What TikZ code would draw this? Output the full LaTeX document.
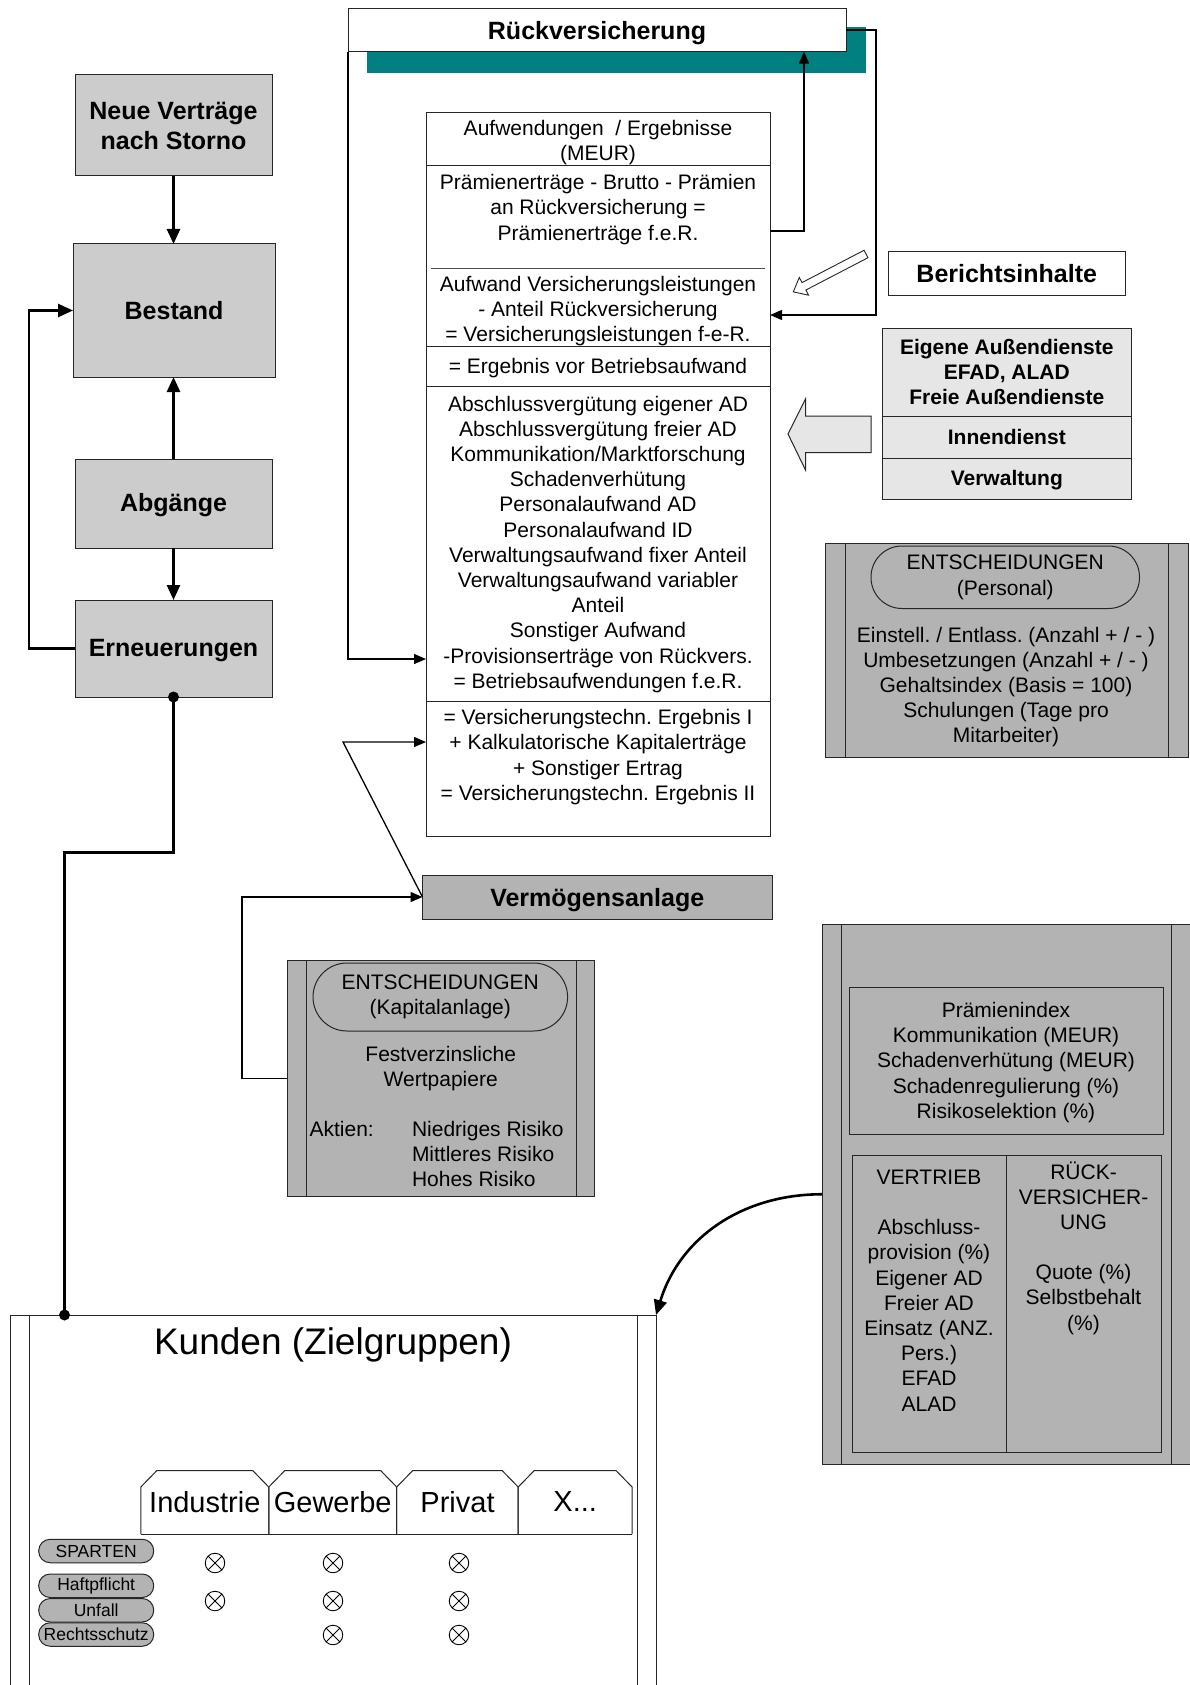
\documentclass[tikz,border=0pt]{standalone}
\usepackage{fontspec}
\setmainfont{Liberation Sans}
\usetikzlibrary{arrows.meta,calc}

\definecolor{flowfill}{HTML}{CCCCCC}
\definecolor{darkfill}{HTML}{B3B3B3}
\definecolor{lightfill}{HTML}{E6E6E6}
\definecolor{shadowteal}{HTML}{008080}
\definecolor{edge}{HTML}{262626}

\newcommand{\txtbody}{\fontsize{21}{25.2}\selectfont}
\newcommand{\txthead}{\fontsize{25}{30}\selectfont\bfseries}
\newcommand{\txtbold}{\fontsize{21}{25.3}\selectfont\bfseries}
\newcommand{\txtbig}{\fontsize{37}{44}\selectfont}
\newcommand{\txttab}{\fontsize{29}{34}\selectfont}
\newcommand{\txtpill}{\fontsize{17.5}{20}\selectfont}
% shift a one-line label vertically without changing its box
\newcommand{\lowertext}[2]{\raisebox{#1}[\height][\depth]{#2}}

\begin{document}
\frenchspacing
\begin{tikzpicture}[x=1pt, y=-1pt,
  every node/.style={inner sep=0pt, outer sep=0pt, align=center},
  plainbox/.style={draw=edge, line width=1pt, rectangle},
  flowbox/.style={plainbox, fill=flowfill, font=\txthead},
  greybox/.style={plainbox, fill=darkfill},
  lightbox/.style={plainbox, fill=lightfill, font=\txtbold, minimum width=248.4pt},
  roundpill/.style={draw=edge, line width=1pt, fill=darkfill},
  spartepill/.style={draw=edge, line width=1pt, fill=darkfill, rounded corners=11.5pt,
    minimum width=115pt, minimum height=23.5pt, font=\txtpill},
  thinlink/.style={draw=black, line width=1.3pt, -{Triangle[length=12pt,width=10pt]}},
  thicklink/.style={draw=black, line width=2.6pt, -{Triangle[length=15pt,width=13pt]}},
  thickline/.style={draw=black, line width=2.6pt},
  tabline/.style={draw=edge, line width=1pt},
  crossmark/.style={circle, draw=black, line width=0.9pt, minimum size=19.5pt,
    path picture={\draw[line width=0.9pt]
      (path picture bounding box.north west) -- (path picture bounding box.south east)
      (path picture bounding box.north east) -- (path picture bounding box.south west);}}
]
\useasboundingbox (0,0) rectangle (1190,1685);
\fill[white] (0,0) rectangle (1190,1685);

% ---------- contract flow (left column) ----------
\node[flowbox, minimum width=197pt, minimum height=101pt] (neue) at (173.5,125.5) {Neue Verträge\\nach Storno};
\node[flowbox, minimum width=202pt, minimum height=133pt] (bestand) at (174,310.5) {Bestand};
\node[flowbox, minimum width=197pt, minimum height=89pt] (abg) at (173.5,503.5) {\lowertext{-2pt}{Abgänge}};
\node[flowbox, minimum width=197pt, minimum height=97pt] (ern) at (173.5,648.5) {\lowertext{-2pt}{Erneuerungen}};

\draw[thicklink] (neue.south) -- (neue.south |- bestand.north);
\draw[thicklink] (abg.north) -- (abg.north |- bestand.south);
\draw[thicklink] (abg.south) -- (abg.south |- ern.north);
\draw[thicklink] (ern.west) -- ++(-46,0) |- (bestand.west);

% ---------- reinsurance header with teal shadow ----------
\fill[shadowteal] (366.6,27) rectangle (866,73);
\node[plainbox, fill=white, minimum width=498pt, minimum height=43pt, font=\txthead] (rueck) at (597,30.1) {\lowertext{-3pt}{Rückversicherung}};

% ---------- profit and loss statement ----------
\node[plainbox, fill=white, minimum width=344pt, minimum height=53pt] (s1) at (598,139.5) {};
\node[plainbox, fill=white, minimum width=344pt, minimum height=180pt] (s2) at (598,256) {};
\node[plainbox, fill=white, minimum width=344pt, minimum height=40pt] (s3) at (598,366) {};
\node[plainbox, fill=white, minimum width=344pt, minimum height=315pt] (s4) at (598,543.5) {};
\node[plainbox, fill=white, minimum width=344pt, minimum height=135pt] (s5) at (598,768.5) {};

\node[font=\txtbody] (t1) at (598,142.5) {Aufwendungen~ / Ergebnisse\\(MEUR)};
\node[font=\txtbody] (t2a) at (598,209.4) {Prämienerträge - Brutto - Prämien\\an Rückversicherung =\\Prämienerträge f.e.R.};
\draw[line width=0.8pt, black!70] (431,268) -- (765,268);
\node[font=\txtbody] (t2b) at (598,311) {Aufwand Versicherungsleistungen\\- Anteil Rückversicherung\\= Versicherungsleistungen f-e-R.};
\node[font=\txtbody] (t3) at (598,368.5) {= Ergebnis vor Betriebsaufwand};
\node[font=\txtbody] (t4) at (598,544.3) {Abschlussvergütung eigener AD\\Abschlussvergütung freier AD\\Kommunikation/Marktforschung\\Schadenverhütung\\Personalaufwand AD\\Personalaufwand ID\\Verwaltungsaufwand fixer Anteil\\Verwaltungsaufwand variabler\\Anteil\\Sonstiger Aufwand\\-Provisionserträge von Rückvers.\\= Betriebsaufwendungen f.e.R.};
\node[font=\txtbody] (t5) at (598,757) {= Versicherungstechn. Ergebnis I\\+ Kalkulatorische Kapitalerträge\\+ Sonstiger Ertrag\\= Versicherungstechn. Ergebnis II};

% links between statement and reinsurance
\coordinate (rvup) at (804,231);
\draw[thinlink] (s2.east |- rvup) -- (rvup) -- (rvup |- rueck.south);
\coordinate (rvdown) at (876,315);
\draw[thinlink] (rueck.east) -| (rvdown) -- (rvdown -| s2.east);
\coordinate (rvleft) at (348,659);
\draw[thinlink] (rueck.south west) -- (rvleft) -- (rvleft -| s4.west);

% ---------- report contents ----------
\node[plainbox, fill=white, minimum width=237.5pt, minimum height=44pt, font=\txthead] (bericht) at (1006.75,273.5) {Berichtsinhalte};
\begin{scope}[shift={(866,254)}, rotate=207.5]
  \draw[line width=0.9pt, draw=edge, fill=white]
    (0,-4.2) -- (70,-4.2) -- (70,-10) -- (82,0) -- (70,10) -- (70,4.2) -- (0,4.2) -- cycle;
\end{scope}

\node[lightbox, minimum height=88pt] (eig1) at (1006.8,372) {Eigene Außendienste\\EFAD, ALAD\\Freie Außendienste};
\node[lightbox, minimum height=42pt] (eig2) at (1006.8,437) {Innendienst};
\node[lightbox, minimum height=41pt] (eig3) at (1006.8,478.5) {\lowertext{-2pt}{Verwaltung}};
\draw[line width=1pt, draw=edge, fill=lightfill]
  (788,434) -- (805.5,399) -- (805.5,416) -- (871,416) -- (871,452.6) -- (805.5,452.6) -- (805.5,470) -- cycle;

% ---------- staff decisions ----------
\node[greybox, minimum width=362.4pt, minimum height=214pt] (pers) at (1006.8,650) {};
\draw[line width=1pt, edge] ([xshift=19.5pt]pers.north west) -- ([xshift=19.5pt]pers.south west);
\draw[line width=1pt, edge] ([xshift=-19.5pt]pers.north east) -- ([xshift=-19.5pt]pers.south east);
\node[roundpill, rounded corners=31pt, minimum width=268.5pt, minimum height=62.5pt, font=\txtbody] (perspill) at (1005.25,577.25) {ENTSCHEIDUNGEN\\(Personal)};
\node[font=\txtbody] (perstxt) at (1006,687) {Einstell. / Entlass. (Anzahl + / - )\\Umbesetzungen (Anzahl + / - )\\Gehaltsindex (Basis = 100)\\Schulungen (Tage pro\\Mitarbeiter)};

% ---------- asset management ----------
\node[greybox, minimum width=349.5pt, minimum height=44pt, font=\txthead] (verm) at (597.25,897) {\lowertext{-3pt}{Vermögensanlage}};
\node[greybox, minimum width=307.5pt, minimum height=236.5pt] (kap) at (440.75,1078.25) {};
\draw[line width=1pt, edge] ([xshift=19pt]kap.north west) -- ([xshift=19pt]kap.south west);
\draw[line width=1pt, edge] ([xshift=-18.5pt]kap.north east) -- ([xshift=-18.5pt]kap.south east);
\node[roundpill, rounded corners=34pt, minimum width=254.6pt, minimum height=68pt, font=\txtbody] (kappill) at (440.3,997) {ENTSCHEIDUNGEN\\(Kapitalanlage)};
\node[font=\txtbody] (kaptxt) at (440.7,1068.5) {Festverzinsliche\\Wertpapiere};
\node[font=\txtbody, anchor=west] (aktien) at (309.6,1129) {Aktien:};
\node[font=\txtbody, anchor=west, align=left] (risiko) at (412,1154) {Niedriges Risiko\\Mittleres Risiko\\Hohes Risiko};

\coordinate (vk) at (343,742);
\draw[thinlink] (verm.west) -- (vk) -- (vk -| s5.west);
\coordinate (kapturn) at (242,1078.25);
\draw[thinlink] (kap.west) -- (kapturn) |- (verm.west);

% ---------- sales and reinsurance decisions ----------
\node[greybox, minimum width=368.5pt, minimum height=539.5pt] (vert) at (1006.25,1194.25) {};
\draw[line width=1pt, edge] ([xshift=19.5pt]vert.north west) -- ([xshift=19.5pt]vert.south west);
\draw[line width=1pt, edge] ([xshift=-19pt]vert.north east) -- ([xshift=-19pt]vert.south east);
\node[greybox, minimum width=314pt, minimum height=147pt] (praem) at (1006,1060.5) {};
\node[font=\txtbody] (praemtxt) at (1006,1062.5) {Prämienindex\\Kommunikation (MEUR)\\Schadenverhütung (MEUR)\\Schadenregulierung (\%)\\Risikoselektion (\%)};
\node[greybox, minimum width=153.5pt, minimum height=296.4pt] (vtb) at (929.25,1303.8) {};
\node[greybox, minimum width=155pt, minimum height=296.4pt] (rvs) at (1083.5,1303.8) {};
\node[font=\txtbody] (vtbtxt) at (929,1290.5) {VERTRIEB\\[25.2pt]Abschluss-\\provision (\%)\\Eigener AD\\Freier AD\\Einsatz (ANZ.\\Pers.)\\EFAD\\ALAD};
\node[font=\txtbody] (rvstxt) at (1083.5,1248) {RÜCK-\\VERSICHER-\\UNG\\[25pt]Quote (\%)\\Selbstbehalt\\(\%)};

% ---------- customers ----------
\node[plainbox, fill=white, minimum width=645.25pt, minimum height=385pt, anchor=north] (kunden) at (333.4,1315) {};
\draw[line width=1pt, edge] ([xshift=18.25pt]kunden.north west) -- ([xshift=18.25pt]kunden.south west);
\draw[line width=1pt, edge] ([xshift=-18.5pt]kunden.north east) -- ([xshift=-18.5pt]kunden.south east);
\node[font=\txtbig] (kundtitle) at (333,1345) {Kunden (Zielgruppen)};

\foreach \xl/\xr in {140.8/268.75, 268.75/396.7, 396.7/518.2, 518.2/632.1}
  \draw[tabline] (\xl,1534) -- (\xl,1487) -- (\xl+16,1470.6) -- (\xr-16,1470.6) -- (\xr,1487) -- (\xr,1534);
\draw[tabline] (140.8,1534) -- (632.1,1534);
\node[font=\txttab] (tind) at (204.8,1502) {Industrie};
\node[font=\txttab] (tgew) at (332.7,1502) {Gewerbe};
\node[font=\txttab] (tpri) at (457.5,1502) {Privat};
\node[font=\txttab] (tx) at (575.2,1502) {X...};

\node[spartepill] (sparten) at (96.2,1551) {SPARTEN};
\node[spartepill] (haft) at (96.2,1585.75) {Haftpflicht};
\node[spartepill] (unfall) at (96.2,1610.25) {Unfall};
\node[spartepill] (recht) at (96.2,1634.5) {Rechtsschutz};

\node[crossmark] (m11) at (215,1563) {};
\node[crossmark] (m12) at (333,1563) {};
\node[crossmark] (m13) at (459,1563) {};
\node[crossmark] (m21) at (215,1601) {};
\node[crossmark] (m22) at (333,1601) {};
\node[crossmark] (m23) at (459,1601) {};
\node[crossmark] (m32) at (333,1635) {};
\node[crossmark] (m33) at (459,1635) {};

% renewals feed the customers
\coordinate (kbend) at (173.5,852.5);
\coordinate (kdrop) at (64.5,852.5);
\draw[thickline] (ern.south) -- (kbend) -- (kdrop) -- (kdrop |- kunden.north);
\fill (ern.south) circle (5.5);
\fill (kdrop |- kunden.north) circle (5.5);

% decisions act on the customers
\draw[thicklink] (vert.west) to[out=180, in=73] (kunden.north east);

\end{tikzpicture}
\end{document}
